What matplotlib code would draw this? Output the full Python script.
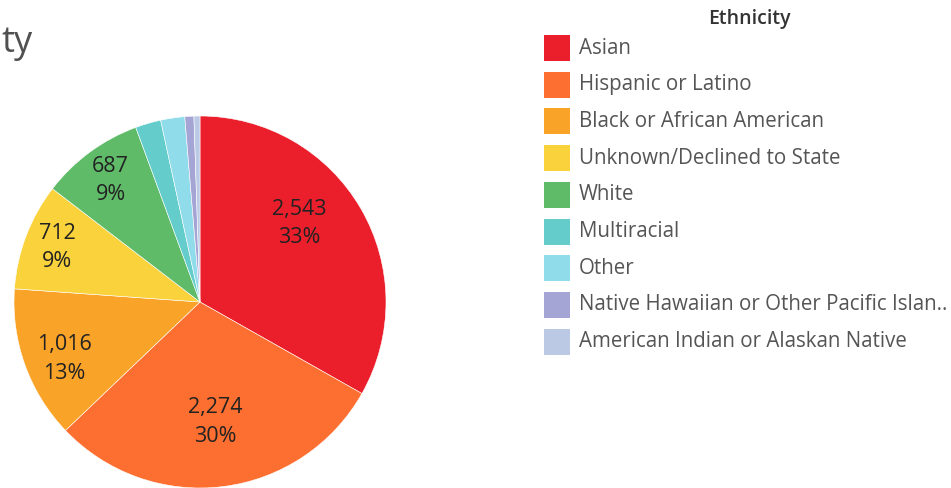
import numpy as np
import matplotlib.pyplot as plt
from matplotlib.patches import Rectangle

categories = ['Asian', 'Hispanic or Latino', 'Black or African American',
              'Unknown/Declined to State', 'White', 'Multiracial', 'Other',
              'Native Hawaiian or Other Pacific Islan..',
              'American Indian or Alaskan Native']
counts = [2543, 2274, 1016, 712, 687, 170, 160, 60, 40]
colors = ['#EB1E2C', '#FD6F30', '#F9A329', '#F9D23C', '#5FBB68',
          '#64CDCC', '#91DCEA', '#A4A4D5', '#BBC9E5']
shown = [True, True, True, True, True, False, False, False, False]

plt.rcParams['font.family'] = ['Open Sans', 'DejaVu Sans']

W, H = 951, 488
fig = plt.figure(figsize=(W / 100, H / 100), dpi=100)
ax = fig.add_axes([0, 0, 1, 1])

cx, cy, R = 200, H - 302, 186
wedges, _ = ax.pie(counts, colors=colors, startangle=90, counterclock=False,
                   center=(cx, cy), radius=R,
                   wedgeprops=dict(edgecolor='white', linewidth=0.4))

ax.set_xlim(0, W)
ax.set_ylim(0, H)
ax.set_aspect('equal')
ax.axis('off')

# label placement: radius fraction and angle nudge (deg) per slice
lab_r = [0.68, 0.65, 0.79, 0.82, 0.81]
lab_da = [8, 0, 3, 0, 0]
total = sum(counts)
for i, w in enumerate(wedges):
    if not shown[i]:
        continue
    mid = np.deg2rad((w.theta1 + w.theta2) / 2 + lab_da[i])
    x = cx + lab_r[i] * R * np.cos(mid)
    y = cy + lab_r[i] * R * np.sin(mid)
    pct = round(100 * counts[i] / total)
    ax.text(x, y, f'{counts[i]:,}\n{pct}%', ha='center', va='center',
            fontsize=15.5, color='#222222', linespacing=1.45)

# title (cut off on the left in the source)
ax.text(1, H - 43, 'ty', ha='left', va='center', fontsize=26,
        color='#505050')

# legend
ax.text(749, H - 19, 'Ethnicity', ha='center', va='center', fontsize=14,
        color='#333333', fontweight='semibold')
for i, name in enumerate(categories):
    top = H - (35 + i * 36.7)
    ax.add_patch(Rectangle((544, top - 26), 26, 26, facecolor=colors[i],
                           edgecolor='none'))
    ax.text(579, top - 13, name, ha='left', va='center', fontsize=14.8,
            color='#555555')

fig.savefig('out.png', dpi=100)
